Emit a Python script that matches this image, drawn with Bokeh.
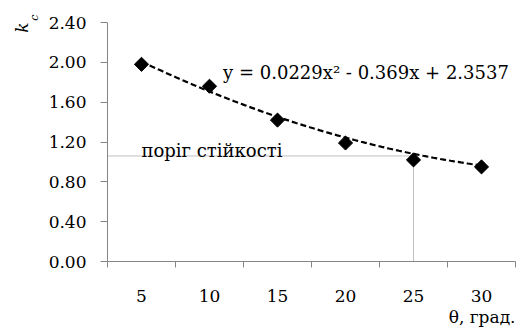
import numpy as np
from bokeh.plotting import figure
from bokeh.models import Range1d, FixedTicker, Label, Title
from bokeh.embed import file_html
from bokeh.resources import INLINE

# data
angles = [5, 10, 15, 20, 25, 30]
kc = [1.98, 1.76, 1.42, 1.19, 1.02, 0.95]
y_ticks = [0.0, 0.4, 0.8, 1.2, 1.6, 2.0, 2.4]
threshold = 1.06
threshold_angle = 25
coef = [0.0229, -0.369, 2.3537]   # trendline on category index 1..6
equation = "y = 0.0229x² - 0.369x + 2.3537"
threshold_text = "поріг стійкості"
x_title = "θ, град."

FONT = "DejaVu Serif"
FS = "17px"
FS_TXT = "18px"
AXIS_COLOR = "#868686"

p = figure(width=516, height=327, output_backend="svg", toolbar_location=None,
           x_range=Range1d(2.5, 32.5), y_range=Range1d(0, 2.4),
           min_border_left=107, min_border_right=1, min_border_top=22, min_border_bottom=66)
p.outline_line_color = None
p.xgrid.grid_line_color = None
p.ygrid.grid_line_color = None

# x axis: labels at centres, tick marks at category boundaries
step = angles[1] - angles[0]
bounds = [a - step / 2 for a in angles] + [angles[-1] + step / 2]
p.xaxis.ticker = FixedTicker(ticks=angles, minor_ticks=bounds)
p.xaxis.major_tick_line_color = None
p.xaxis.minor_tick_line_color = AXIS_COLOR
p.xaxis.minor_tick_out = 6
p.xaxis.minor_tick_in = 0
p.xaxis.major_label_standoff = 22
p.xaxis.axis_line_color = AXIS_COLOR

p.yaxis.ticker = FixedTicker(ticks=y_ticks, minor_ticks=[])
p.yaxis.major_label_overrides = {t: f"{t:.2f}" for t in y_ticks}
p.yaxis.major_tick_line_color = AXIS_COLOR
p.yaxis.major_tick_out = 7
p.yaxis.major_tick_in = 0
p.yaxis.major_label_standoff = 14
p.yaxis.axis_line_color = AXIS_COLOR

for ax in (p.xaxis, p.yaxis):
    ax.major_label_text_font = FONT
    ax.major_label_text_font_size = FS
    ax.major_label_text_color = "black"

# threshold lines
p.line([bounds[0], threshold_angle], [threshold, threshold], line_color="#808080",
       line_width=1, line_dash="1 1")
p.line([threshold_angle, threshold_angle], [0, threshold], line_color="#808080",
       line_width=1, line_dash="1 1")

# trend line
idx = np.linspace(1, len(angles), 100)
trend = coef[0] * idx ** 2 + coef[1] * idx + coef[2]
p.line(idx * step, trend, line_color="black", line_width=2.2, line_dash="6 3")

# points
p.scatter(angles, kc, marker="square", angle=np.pi / 4, size=10,
          fill_color="black", line_color="black")

p.add_layout(Label(x=11, y=1.9, text=equation, text_font=FONT, text_font_size=FS_TXT,
                   text_color="black", text_baseline="alphabetic"))
p.add_layout(Label(x=5, y=1.11, text=threshold_text, text_font=FONT, text_font_size=FS_TXT,
                   text_color="black", text_baseline="alphabetic"))
p.add_layout(Title(text=x_title, align="right", text_font=FONT, text_font_size=FS,
                   text_font_style="normal", text_color="black", standoff=0), "below")
p.add_layout(Title(text="c", align="right", text_font=FONT, text_font_size="11px",
                   text_font_style="italic", text_color="black", offset=-8,
                   standoff=10), "left")
p.add_layout(Title(text="k", align="right", text_font=FONT, text_font_size=FS,
                   text_font_style="italic", text_color="black", offset=0,
                   standoff=-22), "left")

open("out.html", "w").write(file_html(p, INLINE))
